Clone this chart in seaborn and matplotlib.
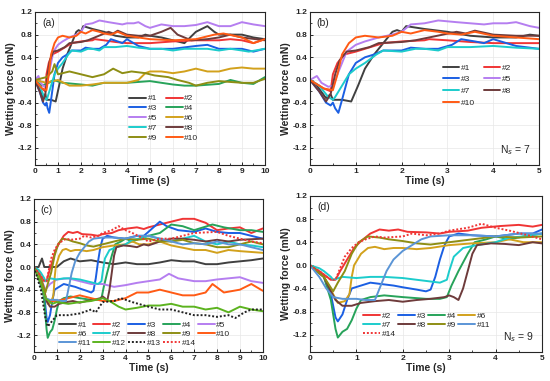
import matplotlib
matplotlib.use("Agg")
import matplotlib.pyplot as plt
import numpy as np
import pandas as pd
import seaborn as sns
from matplotlib.ticker import MultipleLocator, FormatStrFormatter

### data (time s, wetting force mN)
## set A: panels (a) and (b)
a1 = [(0, 0), (0.15, -0.1), (0.35, -0.32), (0.45, -0.25), (0.5, -0.35), (0.7, -0.35), (0.9, -0.38),
      (1.05, -0.1), (1.2, 0.2), (1.4, 0.45), (1.6, 0.65), (1.8, 0.85), (1.9, 0.88), (2.0, 0.85),
      (2.1, 0.95), (2.5, 0.9), (3.0, 0.85), (3.5, 0.78), (4.0, 0.75), (4.5, 0.75), (4.8, 0.8),
      (5.0, 0.78), (5.5, 0.75), (6.0, 0.7), (6.5, 0.65), (7.0, 0.85), (7.5, 0.95), (7.8, 0.85),
      (8.0, 0.8), (9.0, 0.8), (9.5, 0.75), (10, 0.72)]
a2 = [(0, 0), (0.3, -0.15), (0.45, -0.2), (0.5, 0.1), (0.6, 0.3), (0.75, 0.45), (1.0, 0.5),
      (1.2, 0.55), (1.4, 0.6), (1.6, 0.65), (2.0, 0.68), (2.5, 0.7), (2.6, 0.72), (3.0, 0.7),
      (3.5, 0.67), (4.0, 0.65), (4.5, 0.65), (5.0, 0.65), (6.0, 0.68), (7.0, 0.7), (8.0, 0.7),
      (8.5, 0.72), (9.0, 0.7), (9.5, 0.65), (10, 0.72)]
a3 = [(0, 0), (0.2, -0.2), (0.35, -0.4), (0.45, -0.45), (0.5, -0.4), (0.55, -0.5), (0.62, -0.58),
      (0.7, -0.35), (0.85, 0.1), (1.0, 0.3), (1.2, 0.4), (1.4, 0.45), (1.6, 0.52), (2.0, 0.52),
      (2.2, 0.57), (2.5, 0.55), (2.8, 0.55), (3.1, 0.62), (3.3, 0.72), (3.6, 0.68), (3.8, 0.65),
      (4.0, 0.72), (4.5, 0.6), (5.0, 0.55), (6.0, 0.55), (7.0, 0.6), (7.5, 0.62), (8.0, 0.55),
      (9.0, 0.55), (9.5, 0.5), (10, 0.55)]
a4 = [(0, 0), (0.3, -0.1), (0.6, -0.05), (0.8, 0.0), (1.2, -0.05), (2.0, -0.08), (2.5, -0.1),
      (3.0, -0.05), (4.0, -0.05), (5.0, -0.02), (5.5, -0.05), (6.0, -0.08), (6.5, -0.1),
      (7.0, -0.1), (8.0, -0.07), (8.5, 0.0), (9.0, -0.05), (9.5, -0.07), (10, 0.05)]
a5 = [(0, 0), (0.15, 0.07), (0.25, -0.05), (0.4, -0.12), (0.5, -0.1), (0.7, 0.3), (0.8, 0.5),
      (1.0, 0.62), (1.2, 0.68), (1.5, 0.75), (1.8, 0.8), (2.0, 0.85), (2.2, 0.98), (2.5, 1.0),
      (2.8, 1.05), (3.2, 1.02), (3.5, 1.0), (3.8, 0.98), (4.0, 1.0), (4.3, 1.0), (4.5, 1.02),
      (4.8, 0.95), (5.0, 0.92), (5.5, 0.98), (6.0, 0.95), (6.5, 0.95), (7.0, 0.97), (7.5, 1.02),
      (8.0, 0.95), (8.5, 0.95), (9.0, 1.02), (9.5, 0.98), (10, 0.95)]
a6 = [(0, 0), (0.5, -0.05), (1.0, 0.0), (1.5, -0.1), (2.0, -0.1), (2.5, -0.08), (3.0, -0.05),
      (4.0, -0.05), (4.5, 0.0), (4.8, 0.12), (5.0, 0.15), (5.5, 0.15), (6.0, 0.12), (6.5, 0.15),
      (7.0, 0.2), (7.5, 0.15), (8.0, 0.15), (8.5, 0.2), (9.0, 0.22), (9.5, 0.2), (10, 0.2)]
a7 = [(0, 0), (0.2, -0.1), (0.4, -0.3), (0.5, -0.35), (0.55, -0.3), (0.7, -0.1), (0.85, 0.1),
      (1.0, 0.2), (1.2, 0.3), (1.45, 0.45), (1.6, 0.52), (2.0, 0.5), (2.3, 0.55), (2.5, 0.55),
      (2.8, 0.52), (3.0, 0.58), (3.5, 0.58), (4.0, 0.6), (4.5, 0.57), (5.0, 0.55), (5.5, 0.55),
      (6.0, 0.52), (6.5, 0.55), (7.0, 0.55), (7.5, 0.55), (8.0, 0.52), (8.5, 0.55), (9.0, 0.52),
      (9.3, 0.5), (10, 0.55)]
a8 = [(0, 0), (0.2, -0.2), (0.35, -0.38), (0.45, -0.25), (0.55, 0.1), (0.65, 0.35), (0.8, 0.5),
      (1.0, 0.52), (1.3, 0.58), (1.5, 0.65), (2.0, 0.67), (2.3, 0.7), (2.6, 0.75), (2.9, 0.8),
      (3.2, 0.85), (3.4, 0.82), (3.6, 0.87), (4.0, 0.8), (4.5, 0.78), (5.0, 0.78), (5.5, 0.85),
      (5.9, 0.92), (6.2, 0.8), (6.8, 0.7), (7.5, 0.72), (8.0, 0.75), (8.5, 0.8), (9.0, 0.75),
      (10, 0.7)]
a9 = [(0, 0), (0.5, 0.05), (0.75, 0.15), (0.85, 0.28), (1.0, 0.1), (1.5, 0.15), (2.0, 0.1),
      (2.5, 0.05), (3.0, 0.1), (3.4, 0.2), (3.8, 0.12), (4.2, 0.15), (4.8, 0.12), (5.2, 0.08),
      (5.8, 0.05), (6.2, 0.0), (6.7, -0.05), (7.0, -0.1), (7.5, -0.05), (8.0, -0.02),
      (9.0, -0.05), (9.5, -0.05), (10, 0.02)]
a10 = [(0, 0), (0.3, -0.15), (0.5, -0.18), (0.6, 0.1), (0.7, 0.45), (0.85, 0.65), (1.0, 0.75),
       (1.2, 0.78), (1.5, 0.75), (1.8, 0.78), (2.0, 0.85), (2.2, 0.82), (2.5, 0.88), (2.8, 0.85),
       (3.0, 0.82), (3.3, 0.8), (3.6, 0.85), (4.0, 0.78), (4.5, 0.75), (5.0, 0.72), (6.0, 0.7),
       (7.0, 0.72), (7.8, 0.8), (8.2, 0.82), (9.0, 0.75), (9.5, 0.65), (10, 0.72)]

## set C: panels (c) and (d)
c1 = [(0, 0), (0.2, 0.0), (0.35, 0.15), (0.45, 0.0), (0.8, 0.0), (1.0, 0.0), (1.3, 0.1),
      (1.6, 0.15), (2.0, 0.1), (2.5, 0.12), (3.0, 0.08), (3.5, 0.05), (4.0, 0.08), (4.5, 0.05),
      (5.0, 0.05), (5.5, 0.08), (6.0, 0.12), (6.5, 0.1), (7.0, 0.1), (7.5, 0.05), (8.0, 0.05),
      (8.5, 0.08), (9.0, 0.1), (9.5, 0.12), (10, 0.15)]
c2 = [(0, 0), (0.2, -0.1), (0.45, -0.25), (0.55, -0.25), (0.65, -0.1), (0.8, 0.1), (0.95, 0.3),
      (1.1, 0.42), (1.3, 0.55), (1.5, 0.62), (1.7, 0.6), (1.9, 0.62), (2.1, 0.58), (2.5, 0.57),
      (2.8, 0.55), (3.0, 0.58), (3.4, 0.6), (3.7, 0.65), (4.1, 0.68), (4.5, 0.7), (4.8, 0.67),
      (5.0, 0.7), (5.5, 0.75), (6.0, 0.8), (6.5, 0.85), (7.0, 0.85), (7.5, 0.78), (8.0, 0.65),
      (8.5, 0.68), (9.0, 0.7), (9.5, 0.6), (10, 0.68)]
c3 = [(0, 0), (0.3, -0.2), (0.45, -0.5), (0.55, -0.9), (0.6, -0.97), (0.7, -0.85), (0.8, -0.6),
      (0.9, -0.4), (1.1, -0.35), (1.3, -0.3), (1.5, -0.32), (1.8, -0.35), (2.0, -0.38),
      (2.3, -0.42), (2.5, -0.45), (2.6, -0.42), (2.7, -0.2), (2.8, 0.1), (2.9, 0.35), (3.0, 0.5),
      (3.2, 0.55), (3.5, 0.52), (4.0, 0.5), (4.2, 0.52), (4.5, 0.55), (4.8, 0.55), (5.0, 0.62),
      (5.5, 0.8), (5.8, 0.72), (6.3, 0.65), (7.0, 0.62), (7.5, 0.68), (8.0, 0.62), (8.5, 0.6),
      (9.0, 0.6), (9.5, 0.55), (10, 0.5)]
c4 = [(0, 0), (0.3, -0.2), (0.45, -0.6), (0.55, -1.1), (0.6, -1.25), (0.7, -1.15), (0.8, -1.1),
      (0.9, -0.95), (1.0, -0.75), (1.1, -0.6), (1.3, -0.55), (1.6, -0.52), (2.0, -0.55),
      (2.5, -0.58), (2.8, -0.58), (2.95, -0.55), (3.05, -0.35), (3.2, -0.1), (3.4, 0.2),
      (3.55, 0.4), (3.8, 0.45), (4.0, 0.5), (4.3, 0.45), (4.6, 0.5), (5.0, 0.55), (5.5, 0.6),
      (6.0, 0.75), (6.5, 0.72), (7.0, 0.65), (7.8, 0.75), (8.3, 0.7), (9.0, 0.65), (9.5, 0.65),
      (10, 0.62)]
c5 = [(0, 0), (0.3, -0.2), (0.5, -0.4), (0.7, -0.3), (1.0, -0.22), (1.5, -0.2), (2.0, -0.25),
      (2.5, -0.3), (3.0, -0.3), (3.5, -0.35), (4.0, -0.32), (4.5, -0.28), (5.0, -0.25),
      (5.5, -0.22), (5.9, -0.12), (6.3, -0.2), (7.0, -0.25), (7.5, -0.25), (8.0, -0.22),
      (8.5, -0.2), (9.0, -0.18), (9.5, -0.25), (10, -0.28)]
c6 = [(0, 0), (0.3, -0.2), (0.5, -0.5), (0.6, -0.65), (0.75, -0.62), (0.85, -0.5), (0.9, -0.2),
      (0.95, 0.0), (1.1, 0.2), (1.25, 0.3), (1.4, 0.32), (1.6, 0.28), (1.8, 0.3), (2.0, 0.3),
      (2.3, 0.28), (2.6, 0.3), (3.0, 0.35), (3.5, 0.38), (4.0, 0.4), (4.3, 0.45), (4.6, 0.4),
      (5.0, 0.4), (5.5, 0.45), (6.0, 0.38), (7.0, 0.3), (7.5, 0.3), (8.0, 0.25), (8.5, 0.3),
      (9.0, 0.28), (10, 0.25)]
c7 = [(0, 0), (0.2, -0.05), (0.3, -0.1), (0.45, -0.2), (0.5, -0.25), (0.7, -0.2), (1.0, -0.22),
      (1.3, -0.2), (1.6, -0.2), (2.0, -0.22), (2.3, -0.25), (2.6, -0.28), (2.8, -0.3),
      (2.95, -0.25), (3.0, -0.1), (3.1, 0.15), (3.3, 0.3), (3.6, 0.35), (4.0, 0.4), (4.3, 0.48),
      (4.6, 0.5), (5.0, 0.55), (5.5, 0.5), (6.0, 0.45), (6.5, 0.5), (7.0, 0.55), (7.5, 0.45),
      (8.0, 0.4), (8.5, 0.45), (9.0, 0.4), (9.5, 0.38), (10, 0.35)]
c8 = [(0, 0), (0.3, -0.2), (0.45, -0.45), (0.55, -0.6), (0.7, -0.7), (0.9, -0.7), (1.1, -0.65),
      (1.4, -0.62), (1.7, -0.6), (2.0, -0.63), (2.3, -0.6), (2.6, -0.58), (2.9, -0.55),
      (3.0, -0.52), (3.1, -0.55), (3.2, -0.6), (3.3, -0.4), (3.4, -0.1), (3.5, 0.2), (3.6, 0.35),
      (3.9, 0.38), (4.2, 0.37), (4.5, 0.35), (4.8, 0.4), (5.0, 0.38), (5.5, 0.45), (6.0, 0.5),
      (6.5, 0.5), (7.0, 0.48), (7.5, 0.45), (8.0, 0.48), (8.5, 0.45), (9.0, 0.48), (10, 0.5)]
c9 = [(0, 0), (0.3, -0.2), (0.5, -0.45), (0.6, -0.3), (0.75, -0.1), (0.9, 0.2), (1.05, 0.4),
      (1.25, 0.5), (1.5, 0.48), (1.7, 0.45), (2.0, 0.42), (2.3, 0.38), (2.6, 0.36), (3.0, 0.4),
      (3.5, 0.45), (4.0, 0.5), (4.5, 0.48), (5.0, 0.5), (5.5, 0.45), (6.0, 0.45), (6.5, 0.48),
      (7.0, 0.42), (7.5, 0.4), (8.0, 0.35), (8.5, 0.35), (9.0, 0.4), (9.5, 0.45), (10, 0.4)]
c10 = [(0, 0), (0.3, -0.3), (0.5, -0.55), (0.7, -0.6), (1.0, -0.6), (1.5, -0.55), (2.0, -0.5),
       (2.5, -0.55), (3.0, -0.6), (3.5, -0.6), (4.0, -0.55), (4.5, -0.45), (5.0, -0.45),
       (5.5, -0.4), (6.0, -0.45), (6.5, -0.5), (7.0, -0.5), (7.5, -0.45), (7.8, -0.3),
       (8.3, -0.45), (9.0, -0.4), (9.5, -0.3), (10, -0.42)]
c11 = [(0, 0), (0.2, -0.2), (0.35, -0.4), (0.5, -0.55), (0.7, -0.58), (1.0, -0.58), (1.2, -0.6),
       (1.4, -0.6), (1.5, -0.4), (1.65, -0.1), (1.8, 0.1), (2.0, 0.25), (2.2, 0.35), (2.4, 0.45),
       (2.6, 0.5), (3.0, 0.52), (3.5, 0.52), (4.0, 0.5), (4.5, 0.55), (5.0, 0.55), (5.5, 0.5),
       (6.0, 0.45), (6.5, 0.4), (7.0, 0.42), (7.5, 0.4), (8.0, 0.45), (8.5, 0.4), (9.0, 0.4),
       (9.5, 0.35), (10, 0.3)]
c12 = [(0, 0), (0.3, -0.3), (0.5, -0.55), (0.8, -0.65), (1.0, -0.62), (1.5, -0.65), (2.0, -0.62),
       (2.5, -0.6), (3.0, -0.55), (3.3, -0.6), (3.7, -0.7), (4.0, -0.75), (4.5, -0.72),
       (5.0, -0.68), (5.5, -0.68), (6.0, -0.65), (6.5, -0.7), (7.0, -0.7), (7.5, -0.75),
       (8.0, -0.72), (8.5, -0.8), (9.0, -0.7), (9.5, -0.75), (10, -0.78)]
c13 = [(0, 0), (0.3, -0.4), (0.5, -0.9), (0.6, -1.05), (0.8, -0.95), (1.0, -0.85), (1.5, -0.85),
       (2.0, -0.82), (2.5, -0.75), (2.7, -0.8), (3.0, -0.62), (3.5, -0.6), (3.8, -0.55),
       (4.3, -0.62), (5.0, -0.7), (5.5, -0.75), (6.0, -0.75), (6.5, -0.8), (7.0, -0.85),
       (7.5, -0.85), (8.0, -0.88), (8.5, -0.85), (8.8, -0.9), (9.2, -0.8), (9.5, -0.75),
       (10, -0.75)]
c14 = [(0, 0), (0.2, -0.1), (0.45, -0.25), (0.55, -0.25), (0.65, -0.05), (0.75, 0.15), (0.9, 0.3),
       (1.05, 0.4), (1.2, 0.45), (1.4, 0.5), (1.6, 0.48), (2.0, 0.5), (2.2, 0.55), (2.5, 0.52),
       (2.8, 0.55), (3.0, 0.6), (3.4, 0.65), (3.7, 0.72), (4.0, 0.65), (4.3, 0.6), (4.7, 0.52),
       (5.0, 0.45), (5.5, 0.5), (6.0, 0.5), (6.5, 0.55), (7.0, 0.6), (8.0, 0.62), (8.5, 0.55),
       (9.0, 0.5), (9.5, 0.45), (10, 0.42)]

set_a = {"#1": a1, "#2": a2, "#3": a3, "#4": a4, "#5": a5,
         "#6": a6, "#7": a7, "#8": a8, "#9": a9, "#10": a10}
set_c = {"#1": c1, "#2": c2, "#3": c3, "#4": c4, "#5": c5, "#6": c6, "#7": c7,
         "#8": c8, "#9": c9, "#10": c10, "#11": c11, "#12": c12, "#13": c13, "#14": c14}

series_a = ["#1", "#2", "#3", "#4", "#5", "#6", "#7", "#8", "#9", "#10"]
series_b = ["#1", "#2", "#3", "#5", "#7", "#8", "#10"]
series_c = ["#1", "#2", "#3", "#4", "#5", "#6", "#7", "#8", "#9", "#10", "#11", "#12", "#13", "#14"]
series_d = ["#2", "#3", "#4", "#6", "#7", "#8", "#9", "#11", "#14"]

colors = {"#1": "#404040", "#2": "#f03535", "#3": "#1b5fe3", "#4": "#27a35a", "#5": "#b57ef0",
          "#6": "#d2a11c", "#7": "#1ccccc", "#8": "#6e3b3b", "#9": "#8e8e14", "#10": "#ff5a14",
          "#11": "#5b95d6", "#12": "#5cb31f", "#13": "#222222", "#14": "#f03535"}
dotted = ["#13", "#14"]

sns.set_theme(style="ticks")
plt.rcParams["font.family"] = ["Liberation Sans", "DejaVu Sans"]
plt.rcParams["axes.linewidth"] = 0.8


def row_major(items, ncol):
    # matplotlib fills legend columns first; reorder so entries read across rows
    n = len(items)
    return [items[i] for c in range(ncol) for i in range(c, n, ncol)]


def draw_panel(ax, data, names, xmax, tag, ncol, leg_xy, colsp, rowsp, ns_text=None):
    for name in names:
        t, f = np.array(data[name]).T
        ls = (0, (1, 1)) if name in dotted else "-"
        sns.lineplot(x=t, y=f, ax=ax, color=colors[name], lw=1.4, linestyle=ls,
                     label=name, sort=False, estimator=None, legend=False)
    ax.set_xlim(0, xmax)
    ax.set_ylim(-1.5, 1.2)
    ax.xaxis.set_major_locator(MultipleLocator(1))
    ax.xaxis.set_minor_locator(MultipleLocator(0.5))
    ax.yaxis.set_major_locator(MultipleLocator(0.4))
    ax.yaxis.set_minor_locator(MultipleLocator(0.2))
    ax.yaxis.set_major_formatter(FormatStrFormatter("%.1f"))
    ax.grid(True, which="major", color="#e8e8e8", lw=0.5)
    ax.tick_params(which="both", direction="in", top=False, right=False, labelsize=6, pad=2)
    ax.tick_params(which="major", length=2.5, width=0.7)
    ax.tick_params(which="minor", length=1.5, width=0.6)
    for lab in ax.get_xticklabels() + ax.get_yticklabels():
        lab.set_fontweight("bold")
    ax.set_xlabel("Time (s)", fontsize=7.5, fontweight="bold", labelpad=1)
    ax.set_ylabel("Wetting force (mN)", fontsize=7.5, fontweight="bold", labelpad=1)
    ax.text(0.03, 0.96, tag, transform=ax.transAxes, fontsize=7.5, va="top", ha="left")
    if ns_text:
        ax.text(0.83, 0.05, ns_text, transform=ax.transAxes, fontsize=7.5, va="bottom", ha="left")
    handles, labels = ax.get_legend_handles_labels()
    order = row_major(list(range(len(labels))), ncol)
    ax.legend([handles[i] for i in order], [labels[i] for i in order], ncol=ncol,
              loc="upper left", bbox_to_anchor=leg_xy, frameon=False, fontsize=6,
              handlelength=2.0, handletextpad=0.2, columnspacing=colsp,
              labelspacing=rowsp, borderpad=0, borderaxespad=0)


fig = plt.figure(figsize=(5.5, 3.81), dpi=100)
ax_a = fig.add_axes([0.0636, 0.567, 0.418, 0.4016])
ax_b = fig.add_axes([0.5636, 0.567, 0.4164, 0.4016])
ax_c = fig.add_axes([0.0618, 0.0761, 0.416, 0.4016])
ax_d = fig.add_axes([0.5636, 0.0761, 0.4218, 0.4095])

draw_panel(ax_a, set_a, series_a, 10, "(a)", 2, (0.41, 0.46), 1.1, 0.25)
draw_panel(ax_b, set_a, series_b, 5, "(b)", 2, (0.58, 0.66), 1.0, 0.45, r"N$_s$ = 7")
draw_panel(ax_c, set_c, series_c, 10, "(c)", 5, (0.11, 0.2), 0.3, 0.15)
draw_panel(ax_d, set_c, series_d, 5, "(d)", 4, (0.23, 0.255), 0.3, 0.15, r"N$_s$ = 9")

fig.savefig("out.png", dpi=100)
